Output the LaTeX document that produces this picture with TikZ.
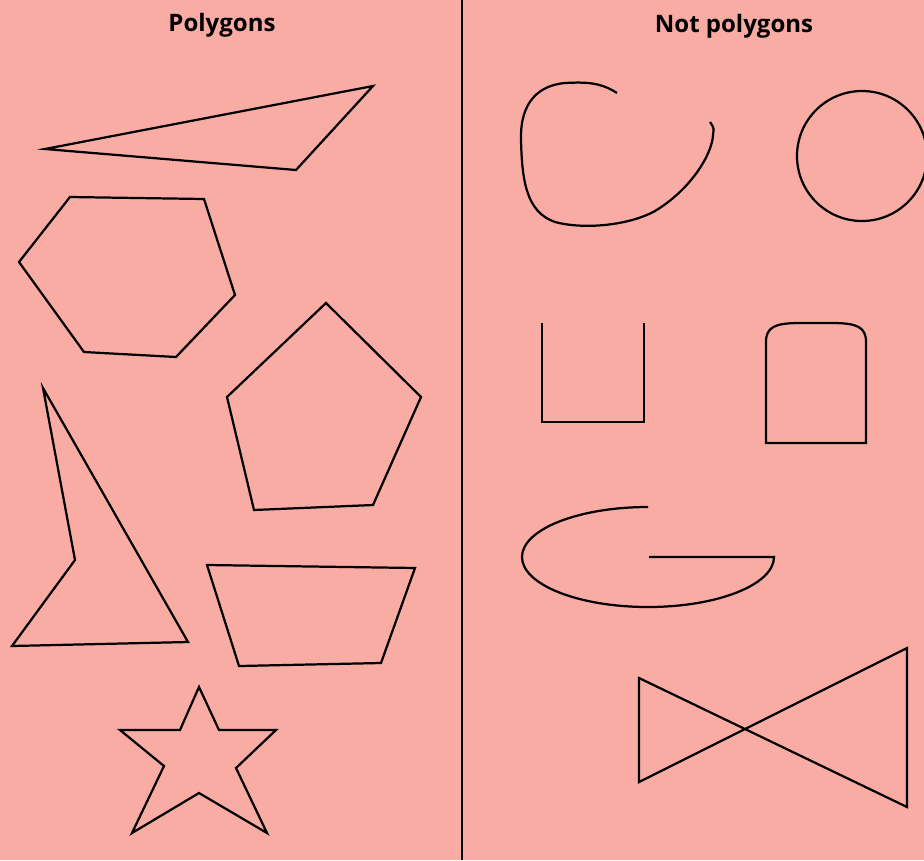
\documentclass[tikz,border=0pt]{standalone}
\usepackage{fontspec}
\setmainfont{Open Sans}
\usepackage{tikz}
\usepackage{xcolor}
\definecolor{paper}{RGB}{249,172,164}

\begin{document}
\begin{tikzpicture}[x=0.03cm,y=-0.03cm,
    outline/.style={line width=1.9pt,line join=miter},
    heading/.style={font=\fontsize{20.5}{24}\selectfont\bfseries}]
  % background
  \fill[paper] (0,0) rectangle (924,860);
  \useasboundingbox (0,0) rectangle (924,860);
  % divider and headings
  \draw[line width=1pt] (462,0) -- (462,860);
  \node[heading] (poly) at (222,25) {Polygons};
  \node[heading] (notpoly) at (734,26) {Not polygons};
  % polygons
  \draw[outline] (45,149) -- (373,86) -- (296,170) -- cycle;
  \draw[outline] (70,197) -- (204,199) -- (235,295) -- (176,357) -- (84,352) -- (19,262) -- cycle;
  \draw[outline] (326,303) -- (421,397) -- (373,505) -- (254,510) -- (227,397) -- cycle;
  \draw[outline] (43,388) -- (188,642) -- (12,646) -- (75,560) -- cycle;
  \draw[outline] (207,565) -- (415,568) -- (381,663) -- (239,666) -- cycle;
  \draw[outline] (199,687) -- (219,730) -- (276,730) -- (236,768) -- (267,833)
    -- (199,793) -- (132,833) -- (164,766) -- (120,730) -- (180,730) -- cycle;
  % not polygons
  \draw[outline] (617,93) .. controls (600,82) and (585,82) .. (565,83)
    .. controls (532,86) and (520,110) .. (521,140)
    .. controls (522,180) and (526,212) .. (555,222)
    .. controls (585,230) and (630,225) .. (655,211)
    .. controls (690,190) and (712,155) .. (713,135)
    .. controls (714,128) .. (710,122);
  \draw[outline] (862,156) circle (65);
  \draw[outline] (542,323) -- (542,422) -- (644,422) -- (644,323);
  \draw[outline] (766,443) -- (766,342) .. controls (766,327) and (775,323) .. (800,323)
    -- (832,323) .. controls (857,323) and (866,327) .. (866,342) -- (866,443) -- cycle;
  \draw[outline] (648,507) arc[start angle=-90,end angle=-360,x radius=126,y radius=50]
    -- (649,557);
  \draw[outline] (639,678) -- (907,807) -- (907,648) -- (639,782) -- cycle;
\end{tikzpicture}
\end{document}
